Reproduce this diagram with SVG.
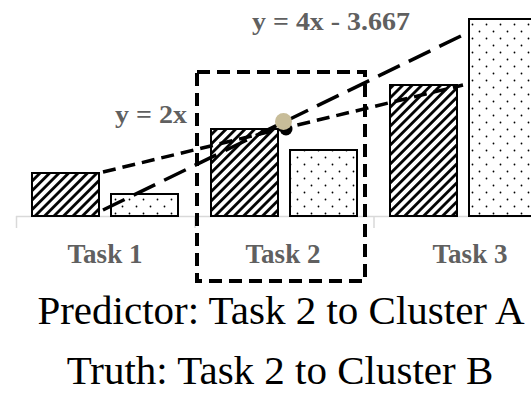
<svg xmlns="http://www.w3.org/2000/svg" width="531" height="396" viewBox="0 0 531 396">
  <style>
    .bar { stroke: #000; stroke-width: 2; }
    .hatch { fill: url(#hatch); }
    .dots { fill: url(#dots); }
    .axis { stroke: #d9d9d9; stroke-width: 1.5; fill: none; }
    .cat { font-family: "Liberation Serif", "Times New Roman", serif; font-weight: bold; font-size: 27px; fill: #606060; text-anchor: middle; }
    .eq { font-family: "Liberation Serif", "Times New Roman", serif; font-weight: bold; font-size: 25px; fill: #606060; }
    .caption { font-family: "Liberation Serif", "Times New Roman", serif; font-size: 41px; fill: #000; text-anchor: middle; }
    .fit-short { stroke: #000; stroke-width: 3.5; stroke-dasharray: 13 7; fill: none; }
    .fit-long { stroke: #000; stroke-width: 3.5; stroke-dasharray: 24 10; fill: none; }
    .frame { stroke: #000; stroke-width: 4; stroke-dasharray: 13 7; fill: none; }
  </style>
  <defs>
    <pattern id="hatch" patternUnits="userSpaceOnUse" width="6.7" height="6.7" patternTransform="rotate(45)">
      <rect width="6.7" height="6.7" fill="#fff"/>
      <line x1="3.35" y1="0" x2="3.35" y2="6.7" stroke="#000" stroke-width="2.8"/>
    </pattern>
    <pattern id="dots" patternUnits="userSpaceOnUse" width="14" height="14">
      <rect width="14" height="14" fill="#fff"/>
      <circle cx="3.5" cy="3.5" r="0.9" fill="#000"/>
      <circle cx="10.5" cy="10.5" r="0.9" fill="#000"/>
    </pattern>
  </defs>

  <!-- category axis -->
  <g id="axis">
    <path class="axis" d="M16 216.5 H531 M16.5 216 V228 M195 216 V228 M374 216 V228"/>
  </g>

  <!-- bars -->
  <g id="task1">
    <rect class="bar hatch" x="32" y="173" width="67" height="43"/>
    <rect class="bar dots" x="111" y="194" width="67" height="22"/>
    <text class="cat" x="105" y="263">Task 1</text>
  </g>
  <g id="task2">
    <rect class="bar hatch" x="211" y="129" width="67" height="87"/>
    <rect class="bar dots" x="290" y="150" width="67" height="66"/>
    <text class="cat" x="283" y="263">Task 2</text>
  </g>
  <g id="task3">
    <rect class="bar hatch" x="390" y="85" width="67" height="131"/>
    <rect class="bar dots" x="469" y="19" width="80" height="197"/>
    <text class="cat" x="470" y="263">Task 3</text>
  </g>

  <!-- fitted lines -->
  <g id="connectors">
    <line class="fit-short" x1="103" y1="172" x2="463" y2="85"/>
    <line class="fit-long" x1="103" y1="210" x2="467" y2="33"/>
  </g>

  <!-- highlighted task -->
  <g id="selection">
    <rect class="frame" x="197" y="72" width="168" height="209"/>
  </g>

  <!-- intersection point -->
  <g id="intersection">
    <circle cx="286" cy="129" r="6.5" fill="#000"/>
    <circle cx="283.5" cy="121.5" r="8.5" fill="#c8bd99"/>
  </g>

  <g id="labels">
    <text class="eq" x="115" y="123" textLength="72" lengthAdjust="spacingAndGlyphs">y = 2x</text>
    <text class="eq" x="252" y="30" textLength="158" lengthAdjust="spacingAndGlyphs">y = 4x - 3.667</text>
    <text class="caption" x="281" y="324">Predictor: Task 2 to Cluster A</text>
    <text class="caption" x="280" y="384">Truth: Task 2 to Cluster B</text>
  </g>
</svg>
